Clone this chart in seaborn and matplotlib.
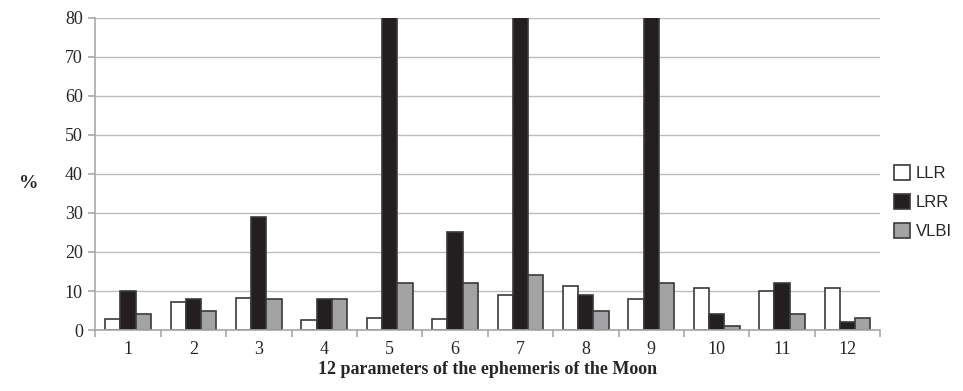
import numpy as np
import pandas as pd
import matplotlib
matplotlib.use("Agg")
import matplotlib.pyplot as plt
import seaborn as sns
from matplotlib.patches import Patch

# ---- data (bars at 5, 7, 9 run off the top) ----
params = [str(i) for i in range(1, 13)]
llr = [2.8, 7.3, 8.2, 2.5, 3.0, 2.7, 9.0, 11.2, 8.0, 10.8, 10.0, 10.8]
lrr = [10, 8, 29, 8, 100, 25, 100, 9, 100, 4, 12, 2]
vlbi = [4, 5, 8, 8, 12, 12, 14, 5, 12, 1, 4, 3]
series = ["LLR", "LRR", "VLBI"]
colors = ["#ffffff", "#231f20", "#a3a3a5"]

df = pd.DataFrame({
    "param": params * 3,
    "value": llr + lrr + vlbi,
    "method": sum([[s] * len(params) for s in series], []),
})

sns.set_theme(style="white")
plt.rcParams["font.family"] = ["Liberation Serif", "DejaVu Serif"]

fig = plt.figure(figsize=(9.63, 3.91), dpi=100)
ax = fig.add_axes([0.099, 0.156, 0.815, 0.798])

sns.barplot(data=df, x="param", y="value", hue="method", palette=colors,
            width=0.7, edgecolor="#3a3a3a", linewidth=1.2, ax=ax,
            legend=False, saturation=1)

ax.set_ylim(0, 80)
ax.set_xlim(-0.5, 11.5)
ax.set_yticks(range(0, 81, 10))
ax.yaxis.grid(True, color="#bdbdbd", linewidth=1.0)
ax.set_axisbelow(True)

for s in ["top", "right"]:
    ax.spines[s].set_visible(False)
for s in ["left", "bottom"]:
    ax.spines[s].set_color("#a8a8a8")
    ax.spines[s].set_linewidth(1.2)

# excel-like ticks between categories
ax.set_xticks(np.arange(-0.5, 12, 1), minor=True)
ax.tick_params(axis="x", which="major", length=0, labelsize=13, pad=8)
ax.tick_params(axis="x", which="minor", length=5, width=1.2, color="#a8a8a8", direction="out")
ax.tick_params(axis="y", length=5, width=1.2, color="#a8a8a8", direction="out",
               labelsize=13, pad=4)
ax.tick_params(bottom=True, left=True, which="both")

ax.set_xlabel("12 parameters of the ephemeris of the Moon", fontsize=13,
              fontweight="bold", labelpad=2)
ax.set_ylabel("%", fontsize=14, fontweight="bold", rotation=0, va="center")
ax.yaxis.set_label_coords(-0.085, 0.47)

handles = [Patch(facecolor=c, edgecolor="#3a3a3a", linewidth=1.2) for c in colors]
leg = ax.legend(handles, series, loc="center left", bbox_to_anchor=(0.998, 0.41),
                frameon=False, handlelength=1.0, handleheight=1.0, handletextpad=0.35,
                labelspacing=0.75, prop={"family": "Liberation Sans", "size": 12})

fig.savefig("out.png", dpi=100)
